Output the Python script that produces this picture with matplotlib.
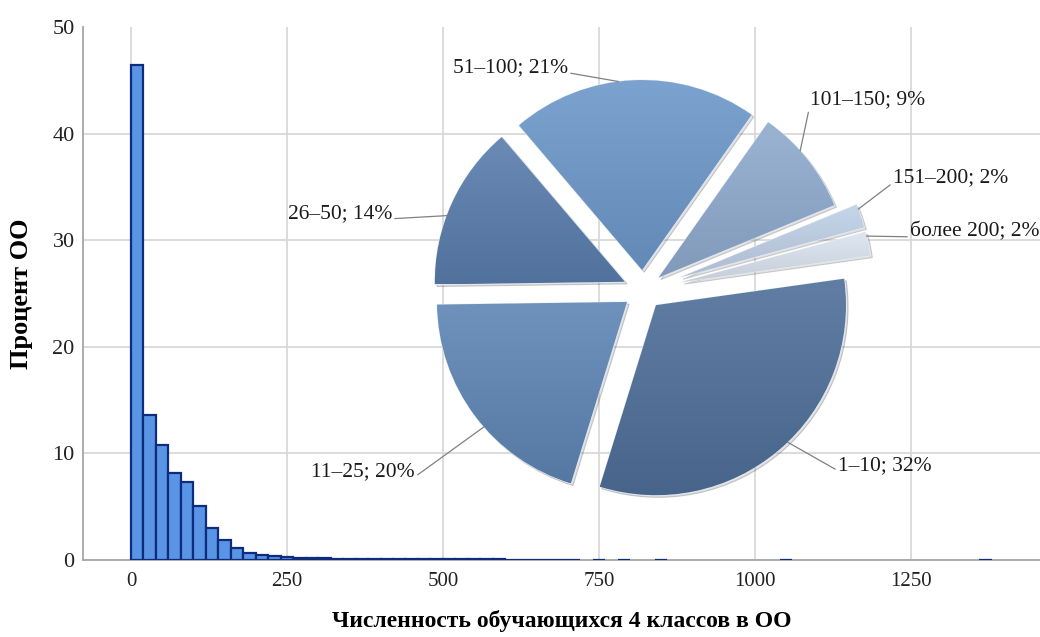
import numpy as np
import matplotlib.pyplot as plt
from matplotlib.colors import to_rgb
from matplotlib.patches import Shadow

# histogram: percent of schools, bins of 20 pupils starting at 0
bin_width = 20
hist_pct = [46.4, 13.6, 10.8, 8.2, 7.3, 5.1, 3.0, 1.85, 1.1, 0.7, 0.5, 0.37, 0.28,
            0.22, 0.18, 0.15, 0.13, 0.12, 0.1, 0.1, 0.09, 0.08, 0.08, 0.12, 0.07,
            0.06, 0.06, 0.05, 0.05, 0.05, 0.04, 0.04, 0.04, 0.03, 0.03, 0.03,
            0, 0.03, 0, 0.03, 0, 0, 0.03,
            0, 0, 0, 0, 0, 0, 0, 0, 0, 0.03,
            0, 0, 0, 0, 0, 0, 0, 0, 0, 0, 0, 0, 0, 0, 0, 0.03]

x_ticks = [0, 250, 500, 750, 1000, 1250]
y_ticks = [0, 10, 20, 30, 40, 50]

# inset pie: groups by number of pupils
pie_labels = ['1–10', '11–25', '26–50', '51–100', '101–150', '151–200', 'более 200']
pie_pct = [32, 20, 14, 21, 9, 2, 2]
pie_colors = ['#4f6f99', '#5f86b6', '#5a7eae', '#6e98cb', '#8fabcf', '#c0d1e7', '#dbe4f0']
pie_explode = [0.105, 0.105, 0.105, 0.105, 0.105, 0.21, 0.21]

plt.rcParams['font.family'] = ['Liberation Serif', 'DejaVu Serif']

fig = plt.figure(figsize=(10.4, 6.37), dpi=100)
ax = fig.add_axes([0.0798, 0.1209, 0.920, 0.8367])

vals = np.array(hist_pct)
lefts = np.arange(len(vals)) * bin_width
nz = vals > 0
ax.bar(lefts[nz], vals[nz], width=bin_width, align='edge',
       color='#5a94e4', edgecolor='#0e2c7e', linewidth=1.6, zorder=3)

ax.set_xlim(-77, 1457)
ax.set_ylim(0, 50)
ax.set_xticks(x_ticks)
ax.set_yticks(y_ticks)
ax.grid(True, color='#d6d6d6', linewidth=1.2)
ax.set_axisbelow(True)
ax.yaxis.get_gridlines()[-1].set_visible(False)
for s in ['top', 'right']:
    ax.spines[s].set_visible(False)
for s in ['left', 'bottom']:
    ax.spines[s].set_color('#a6a6a6')
    ax.spines[s].set_linewidth(1.3)
ax.tick_params(axis='both', length=0, labelsize=15, colors='#222222')
ax.tick_params(axis='x', pad=9)
ax.tick_params(axis='y', pad=6, labelsize=16)
ax.set_xlabel('Численность обучающихся 4 классов в ОО', fontsize=17,
              fontweight='bold', labelpad=13)
ax.set_ylabel('Процент ОО', fontsize=19, fontweight='bold', labelpad=14)

# pie inset
pax = fig.add_axes([0.3808, 0.157, 0.475, 0.7755])
wedges, _ = pax.pie(pie_pct, explode=pie_explode, startangle=8, counterclock=False,
                    colors=pie_colors, radius=1,
                    wedgeprops=dict(edgecolor='#e8eef7', linewidth=0.8))

for w, c in zip(wedges, pie_colors):
    base = np.array(to_rgb(c))
    top = base + (1 - base) * 0.1
    bot = base * 0.9
    t = np.linspace(0, 1, 200)[:, None]
    grad = (bot[None, :] * (1 - t) + top[None, :] * t)[:, None, :]
    v = w.get_path().vertices
    im = pax.imshow(grad, extent=[v[:, 0].min(), v[:, 0].max(), v[:, 1].min(), v[:, 1].max()],
                    origin='lower', aspect='auto', zorder=2, interpolation='bilinear')
    im.set_clip_path(w)
    sh = Shadow(w, 0.008, -0.008, alpha=0.22, zorder=0.5)
    sh.set_facecolor('#7a7a7a')
    pax.add_patch(sh)

pax.set_xlim(-1.3, 1.3)
pax.set_ylim(-1.3, 1.3)
pax.axis('off')

# labels: (text x, text y in figure pixels, ha, position along arc)
label_spec = [
    (838, 171, 'left', 0.53),
    (415, 165, 'right', 0.56),
    (392, 423, 'right', 0.58),
    (568, 569, 'right', 0.56),
    (810, 537, 'left', 0.6),
    (893, 459, 'left', 0.8),
    (910, 405, 'left', 0.83),
]
for w, lab, p, (tx, ty, ha, frac) in zip(wedges, pie_labels, pie_pct, label_spec):
    a = np.deg2rad(w.theta1 + frac * (w.theta2 - w.theta1))
    cx, cy = w.center
    tip = (cx + w.r * np.cos(a), cy + w.r * np.sin(a))
    rel = (0.0, 0.25) if ha == 'left' else (1.0, 0.25)
    pax.annotate(f'{lab}; {p}%', xy=tip, xycoords='data', xytext=(tx, ty),
                 textcoords='figure pixels', ha=ha, va='center', fontsize=15.5,
                 color='#1a1a1a', annotation_clip=False,
                 arrowprops=dict(arrowstyle='-', color='#808080', lw=0.9,
                                 shrinkA=0, shrinkB=0, relpos=rel))

fig.savefig('out.png', dpi=100)
